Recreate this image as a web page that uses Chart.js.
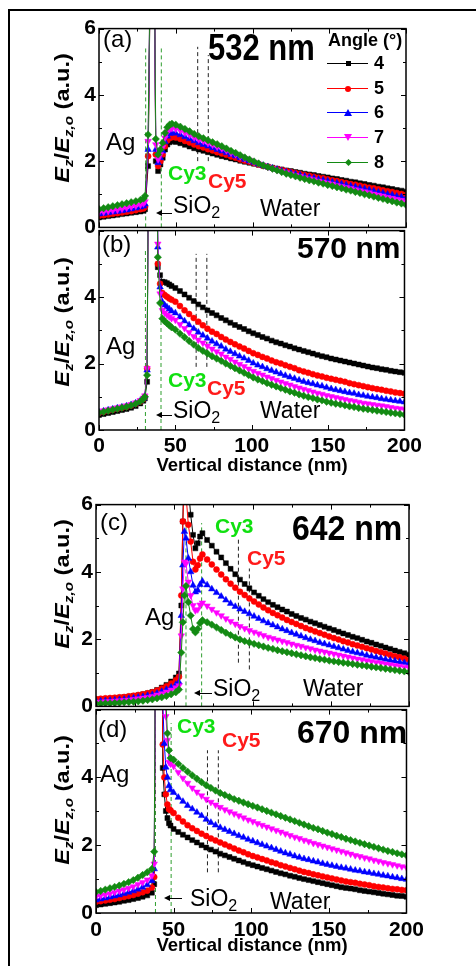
<!DOCTYPE html>
<html>
<head>
<meta charset="utf-8">
<script src="https://cdn.jsdelivr.net/npm/chart.js@4.4.0/dist/chart.umd.min.js"></script>
<style>
  html, body { margin:0; padding:0; background:#fff; }
  body { width:476px; height:966px; position:relative; overflow:hidden; font-family:"Liberation Sans", Arial, sans-serif; color:#000; }
  canvas { position:absolute; }
  .frame { position:absolute; left:8px; top:9px; width:480px; height:970px; border-left:2px solid #000; border-top:2px solid #000; }
  .t { position:absolute; line-height:1; white-space:nowrap; }
  .pl { font-size:24px; }
  .nm { font-weight:bold; transform-origin:left top; }
  .ag { font-size:24px; }
  .cy { font-size:21px; font-weight:bold; }
  .g { color:#10e010; }
  .r { color:#ff1a1a; }
  .sio, .wat { font-size:23px; }
  .sio sub { font-size:70%; vertical-align:-0.3em; line-height:0; }
  .arrow { position:absolute; height:0; border-top:1px solid #000; }
  .arrow:before { content:''; position:absolute; left:-2px; top:-4px; border-right:6px solid #000; border-top:3.5px solid transparent; border-bottom:3.5px solid transparent; }
  .ytitle { position:absolute; font-size:21px; font-weight:bold; white-space:nowrap; line-height:1; transform:translate(-50%,-50%) rotate(-90deg) scaleX(1.12); }
  .ytitle sub { font-size:65%; vertical-align:-0.3em; line-height:0; }
  .xtitle { position:absolute; font-size:18.5px; font-weight:bold; line-height:1; white-space:nowrap; transform:translateX(-50%); }
  .legline { position:absolute; height:0; width:41px; border-top:1px solid; }
  .mk { position:absolute; }
</style>
</head>
<body>
<div class="frame"></div>

<script>
// ---- data ----
const angles = ['4', '5', '6', '7', '8'];
const xTickSteps = [0, 25, 50, 75, 100, 125, 150, 175, 200];
const yTickSteps = [0, 1, 2, 3, 4, 5, 6];

const xWater = [50,53,56,59,62,65,68,71,74,77,80,83,86,89,92,95,98,101,104,107,110,113,116,119,122,125,128,131,134,137,140,143,146,149,152,155,158,161,164,167,170,173,176,179,182,185,188,191,194,197,200];
const xWaterC = [71,74,77,80,83,86,89,92,95,98,101,104,107,110,113,116,119,122,125,128,131,134,137,140,143,146,149,152,155,158,161,164,167,170,173,176,179,182,185,188,191,194,197,200];

// (a) 532 nm
const xA = [0,3,6,9,12,15,18,21,24,27,29,30,32,35,37,38.5,40,41.5,43,44.5,46,47.5, ...xWater];
const blackA = [0.30,0.32,0.34,0.36,0.38,0.40,0.42,0.44,0.46,0.48,0.50,0.55, 1.85,14,2.00,1.70,1.90,2.10,2.35,2.50,2.57,2.60,
  2.58,2.54,2.49,2.44,2.39,2.35,2.31,2.27,2.23,2.19, 2.15,2.12,2.08,2.05,2.01,1.98,1.95,1.92,1.89,1.86, 1.83,1.80,1.77,1.75,1.72,1.70,1.67,1.65,1.62,1.60, 1.58,1.55,1.53,1.51,1.48,1.46,1.43,1.41,1.38,1.36, 1.33,1.31,1.28,1.26,1.23,1.21,1.18,1.16,1.13,1.11, 1.08];
const redA = [0.35,0.37,0.39,0.41,0.43,0.45,0.47,0.49,0.52,0.55,0.57,0.62, 2.15,14,2.20,1.85,2.00,2.20,2.45,2.62,2.70,2.72,
  2.71,2.67,2.61,2.56,2.50,2.45,2.41,2.36,2.32,2.27, 2.23,2.19,2.14,2.10,2.05,2.01,1.98,1.94,1.90,1.86, 1.83,1.79,1.76,1.73,1.70,1.67,1.64,1.61,1.58,1.56, 1.53,1.50,1.48,1.45,1.42,1.40,1.37,1.34,1.31,1.29, 1.26,1.23,1.20,1.18,1.15,1.12,1.09,1.07,1.04,1.01, 0.98];
const blueA = [0.40,0.42,0.44,0.46,0.48,0.50,0.52,0.55,0.58,0.61,0.64,0.70, 2.35,14,2.35,1.95,2.10,2.30,2.58,2.75,2.83,2.86,
  2.84,2.79,2.73,2.67,2.61,2.55,2.50,2.45,2.40,2.35, 2.30,2.25,2.20,2.15,2.10,2.05,2.00,1.96,1.91,1.87, 1.83,1.79,1.75,1.71,1.67,1.64,1.61,1.58,1.54,1.51, 1.49,1.45,1.43,1.40,1.37,1.34,1.31,1.28,1.25,1.22, 1.19,1.16,1.13,1.10,1.06,1.04,1.00,0.98,0.94,0.92, 0.88];
const magentaA = [0.45,0.47,0.49,0.51,0.53,0.56,0.59,0.62,0.65,0.68,0.72,0.78, 2.60,14,2.50,2.05,2.20,2.42,2.70,2.88,2.96,2.99,
  2.97,2.92,2.85,2.79,2.71,2.65,2.60,2.54,2.49,2.43, 2.38,2.32,2.25,2.20,2.14,2.08,2.03,1.97,1.92,1.87, 1.82,1.78,1.73,1.69,1.65,1.61,1.57,1.54,1.50,1.47, 1.44,1.40,1.37,1.34,1.31,1.27,1.24,1.21,1.18,1.14, 1.11,1.08,1.05,1.01,0.98,0.95,0.91,0.88,0.85,0.82, 0.78];
const greenA = [0.55,0.58,0.61,0.64,0.67,0.70,0.73,0.76,0.79,0.83,0.87,0.95, 2.80,14,2.67,2.20,2.35,2.55,2.85,3.02,3.10,3.13,
  3.10,3.04,2.97,2.90,2.82,2.75,2.69,2.63,2.57,2.51, 2.45,2.38,2.31,2.25,2.18,2.11,2.05,1.99,1.93,1.87, 1.82,1.77,1.72,1.67,1.62,1.58,1.54,1.50,1.46,1.42, 1.39,1.35,1.32,1.28,1.25,1.21,1.18,1.14,1.11,1.07, 1.04,1.00,0.97,0.93,0.89,0.86,0.82,0.79,0.75,0.72, 0.68];

// (b) 570 nm
const xB = [0,3,6,9,12,15,18,21,24,27,29,30,31.5,33,37,38.5,40,41.5,43,44.5,46,47.5, ...xWater];
const blackB = [0.45,0.48,0.51,0.54,0.57,0.60,0.63,0.67,0.72,0.80,0.88,0.95, 1.45,14,14,4.90,4.66,4.46,4.45,4.42,4.38,4.33,
  4.27,4.18,4.08,3.98,3.88,3.78,3.69,3.60,3.52,3.45, 3.37,3.30,3.23,3.16,3.10,3.04,2.97,2.91,2.86,2.80, 2.75,2.69,2.64,2.60,2.55,2.51,2.46,2.42,2.38,2.34, 2.30,2.26,2.22,2.19,2.15,2.12,2.09,2.06,2.03,2.00, 1.97,1.94,1.91,1.88,1.86,1.83,1.81,1.78,1.76,1.74, 1.72];
const redB = [0.52,0.55,0.58,0.61,0.64,0.67,0.70,0.74,0.79,0.86,0.93,1.00, 1.85,14,14,5.00,4.40,4.12,4.06,4.01,3.96,3.92,
  3.86,3.73,3.60,3.49,3.37,3.26,3.15,3.05,2.96,2.89, 2.80,2.72,2.65,2.58,2.51,2.45,2.38,2.31,2.26,2.20, 2.15,2.09,2.04,2.00,1.95,1.90,1.86,1.80,1.76,1.72, 1.68,1.64,1.61,1.57,1.54,1.51,1.48,1.45,1.41,1.38, 1.35,1.32,1.29,1.26,1.23,1.21,1.18,1.16,1.13,1.11, 1.09];
const blueB = [0.54,0.57,0.60,0.63,0.66,0.69,0.72,0.76,0.81,0.88,0.95,1.02, 1.80,14,14,5.50,4.30,3.85,3.76,3.70,3.64,3.58,
  3.52,3.40,3.28,3.16,3.05,2.94,2.85,2.76,2.67,2.59, 2.52,2.43,2.36,2.29,2.22,2.16,2.09,2.01,1.95,1.90, 1.84,1.79,1.74,1.69,1.64,1.59,1.55,1.50,1.46,1.42, 1.39,1.35,1.32,1.28,1.24,1.21,1.18,1.15,1.12,1.10, 1.06,1.04,1.01,0.99,0.97,0.94,0.92,0.90,0.88,0.86, 0.84];
const magentaB = [0.55,0.58,0.61,0.64,0.67,0.70,0.73,0.77,0.82,0.89,0.96,1.03, 1.85,14,14,5.60,4.10,3.60,3.52,3.46,3.41,3.36,
  3.31,3.18,3.06,2.94,2.82,2.71,2.62,2.53,2.44,2.36, 2.29,2.20,2.13,2.05,1.98,1.91,1.84,1.77,1.71,1.66, 1.60,1.55,1.50,1.45,1.40,1.36,1.31,1.27,1.23,1.19, 1.15,1.11,1.08,1.04,1.01,0.98,0.95,0.92,0.89,0.87, 0.84,0.81,0.79,0.77,0.75,0.73,0.71,0.68,0.66,0.64, 0.62];
const greenB = [0.52,0.55,0.58,0.61,0.64,0.67,0.70,0.74,0.79,0.86,0.93,1.00, 1.65,14,14,5.20,3.82,3.35,3.27,3.21,3.15,3.09,
  3.02,2.90,2.79,2.68,2.57,2.47,2.38,2.30,2.22,2.15, 2.08,2.00,1.93,1.86,1.79,1.72,1.65,1.58,1.52,1.47, 1.41,1.36,1.31,1.26,1.21,1.16,1.12,1.07,1.03,0.99, 0.96,0.92,0.89,0.85,0.82,0.79,0.77,0.74,0.71,0.69, 0.66,0.64,0.62,0.60,0.58,0.56,0.54,0.52,0.50,0.48, 0.46];

// (c) 642 nm
const xC = [0,3,6,9,12,15,18,21,24,27,30,33,36,39,42,45,48,51, 53,54.5,55.5,56.5,57.5,59,60.5,62,63.5,65,66.5,68, ...xWaterC];
const blackC = [0.20,0.21,0.22,0.23,0.24,0.26,0.27,0.29,0.31,0.33,0.36,0.39,0.43,0.49,0.56,0.64,0.74,0.86, 0.98,3.00,5.50,8.00,7.50,6.50,5.70,5.10,4.70,4.85,5.05,5.15,
  4.95,4.78,4.60,4.43,4.26,4.09,3.93,3.77,3.64,3.51, 3.39,3.29,3.19,3.10,3.02,2.95,2.88,2.82,2.75,2.69, 2.63,2.58,2.52,2.47,2.42,2.37,2.32,2.27,2.22,2.17, 2.12,2.07,2.03,1.98,1.93,1.89,1.84,1.80,1.75,1.71, 1.66,1.62,1.58,1.54];
const redC = [0.22,0.23,0.24,0.25,0.26,0.27,0.28,0.30,0.32,0.34,0.36,0.39,0.42,0.47,0.53,0.60,0.68,0.78, 0.88,3.30,5.50,6.80,6.30,5.40,4.90,4.30,4.07,4.20,4.40,4.52,
  4.37,4.22,4.07,3.92,3.78,3.65,3.53,3.41,3.31,3.21, 3.12,3.03,2.94,2.86,2.78,2.71,2.64,2.57,2.51,2.45, 2.39,2.33,2.28,2.23,2.18,2.13,2.08,2.03,1.99,1.94, 1.90,1.85,1.81,1.77,1.73,1.69,1.65,1.61,1.57,1.53, 1.49,1.46,1.42,1.38];
const blueC = [0.15,0.16,0.17,0.18,0.19,0.20,0.21,0.23,0.25,0.27,0.29,0.32,0.35,0.39,0.44,0.50,0.57,0.65, 0.72,2.70,4.20,5.20,5.00,4.40,4.00,3.60,3.40,3.45,3.62,3.72,
  3.61,3.49,3.38,3.27,3.16,3.06,2.97,2.89,2.82,2.75, 2.68,2.61,2.54,2.48,2.42,2.36,2.30,2.25,2.19,2.14, 2.09,2.04,1.99,1.95,1.90,1.86,1.82,1.78,1.74,1.70, 1.66,1.62,1.59,1.56,1.52,1.49,1.46,1.43,1.40,1.37, 1.35,1.32,1.30,1.27];
const magentaC = [0.12,0.13,0.14,0.15,0.16,0.17,0.18,0.19,0.21,0.23,0.25,0.27,0.30,0.34,0.38,0.43,0.49,0.56, 0.62,2.10,3.50,4.30,4.25,3.70,3.30,3.00,2.85,2.88,3.02,3.08,
  2.99,2.89,2.79,2.70,2.61,2.53,2.45,2.38,2.32,2.26, 2.21,2.16,2.11,2.06,2.02,1.98,1.94,1.90,1.86,1.82, 1.79,1.75,1.72,1.68,1.65,1.62,1.59,1.56,1.53,1.50, 1.47,1.44,1.41,1.39,1.36,1.34,1.31,1.29,1.26,1.24, 1.22,1.20,1.17,1.15];
const greenC = [0.08,0.08,0.09,0.09,0.10,0.11,0.12,0.13,0.14,0.15,0.17,0.19,0.21,0.24,0.27,0.31,0.36,0.42, 0.50,1.60,2.50,3.30,3.58,3.10,2.70,2.30,2.20,2.30,2.48,2.56,
  2.50,2.43,2.35,2.27,2.19,2.12,2.05,1.99,1.94,1.90, 1.86,1.82,1.78,1.74,1.71,1.67,1.64,1.61,1.58,1.55, 1.52,1.49,1.46,1.44,1.41,1.39,1.36,1.34,1.32,1.30, 1.28,1.26,1.24,1.22,1.20,1.18,1.16,1.14,1.12,1.10, 1.08,1.06,1.04,1.02];

// (d) 670 nm
const xD = [0,3,6,9,12,15,18,21,24,27,30,33,36, 37.5,39,42,43,44,45,46,47,48, ...xWater];
const blackD = [0.23,0.25,0.27,0.29,0.31,0.33,0.36,0.38,0.41,0.44,0.48,0.52,0.60, 0.85,14,14,4.28,3.50,3.01,2.80,2.65,2.58,
  2.48,2.39,2.31,2.23,2.15,2.08,2.00,1.93,1.87,1.81, 1.75,1.70,1.65,1.60,1.55,1.50,1.45,1.41,1.37,1.33, 1.29,1.25,1.21,1.17,1.14,1.10,1.07,1.03,1.00,0.97, 0.94,0.91,0.88,0.85,0.82,0.79,0.76,0.74,0.72,0.70, 0.67,0.65,0.63,0.61,0.59,0.57,0.55,0.53,0.51,0.50, 0.48];
const redD = [0.33,0.35,0.37,0.39,0.41,0.44,0.47,0.50,0.53,0.57,0.61,0.66,0.75, 1.06,14,14,4.97,4.00,3.50,3.20,3.06,3.03,
  2.95,2.81,2.70,2.59,2.50,2.42,2.34,2.27,2.20,2.14, 2.08,2.02,1.96,1.90,1.84,1.79,1.73,1.68,1.64,1.59, 1.55,1.50,1.46,1.41,1.37,1.33,1.29,1.25,1.21,1.18, 1.14,1.11,1.08,1.05,1.02,0.99,0.96,0.93,0.91,0.89, 0.86,0.84,0.82,0.79,0.77,0.75,0.73,0.71,0.70,0.68, 0.67];
const blueD = [0.38,0.41,0.44,0.47,0.50,0.53,0.57,0.61,0.65,0.70,0.76,0.83,0.95, 1.30,14,14,6.20,5.00,4.30,4.00,3.75,3.63,
  3.55,3.41,3.29,3.17,3.07,2.97,2.87,2.76,2.67,2.59, 2.52,2.46,2.40,2.34,2.28,2.23,2.17,2.12,2.07,2.02, 1.97,1.92,1.87,1.82,1.77,1.73,1.68,1.64,1.60,1.57, 1.53,1.50,1.46,1.43,1.40,1.37,1.34,1.32,1.29,1.26, 1.24,1.21,1.19,1.16,1.14,1.11,1.09,1.06,1.04,1.01, 0.99];
const magentaD = [0.48,0.51,0.54,0.57,0.61,0.65,0.69,0.73,0.78,0.84,0.90,0.98,1.10, 1.45,14,14,9.00,7.00,5.80,5.10,4.45,4.40,
  4.33,4.15,3.98,3.83,3.69,3.57,3.46,3.36,3.27,3.19, 3.12,3.05,2.99,2.93,2.87,2.81,2.75,2.70,2.64,2.59, 2.54,2.49,2.44,2.39,2.34,2.29,2.24,2.20,2.15,2.11, 2.06,2.02,1.98,1.94,1.90,1.86,1.82,1.78,1.74,1.70, 1.67,1.63,1.60,1.56,1.53,1.49,1.46,1.43,1.40,1.37, 1.34];
const greenD = [0.62,0.65,0.69,0.73,0.77,0.81,0.86,0.91,0.97,1.04,1.12,1.20,1.30, 1.81,14,14,10.0,8.00,6.30,5.30,4.80,4.57,
  4.52,4.40,4.28,4.17,4.06,3.96,3.86,3.77,3.69,3.61, 3.54,3.48,3.42,3.36,3.31,3.26,3.21,3.16,3.11,3.06, 3.01,2.96,2.91,2.86,2.81,2.76,2.71,2.66,2.61,2.56, 2.51,2.47,2.42,2.37,2.33,2.28,2.24,2.19,2.15,2.11, 2.07,2.03,1.99,1.95,1.91,1.87,1.83,1.80,1.76,1.73, 1.70];

// dashed marker lines (x in nm, from/to in a.u.)
const greenDashA = [{x:30.4, from:0, to:5.4}, {x:40.6, from:0, to:5.4}];
const blackDashA = [{x:64.3, from:2.0, to:5.45}, {x:71.2, from:2.0, to:5.2}];
const greenDashB = [{x:30.4, from:0, to:5.45}, {x:40.6, from:0, to:4.6}];
const blackDashB = [{x:63.6, from:1.9, to:5.3}, {x:70.6, from:1.9, to:5.3}];
const greenDashC = [{x:57.5, from:0, to:5.5}, {x:67.5, from:0, to:5.45}];
const blackDashC = [{x:91, from:1.3, to:5.0}, {x:98, from:1.1, to:4.1}];
const greenDashD = [{x:38.3, from:0, to:6}, {x:48.4, from:0, to:5.6}];
const blackDashD = [{x:71.8, from:1.2, to:4.8}, {x:78.8, from:1.2, to:4.8}];

// ---- look ----
const COLORS = ['#000000', '#ff0000', '#0000ff', '#ff00ff', '#138a13'];
const STYLES = ['rect', 'circle', 'triangle', 'triangle', 'rectRot'];
const ROT = [0, 0, 0, 180, 0];
const RAD = [3.5, 3.0, 3.8, 3.8, 3.7];
const FONT = 'Liberation Sans, Arial, sans-serif';

const framePlugin = {
  id: 'frame',
  afterDraw(chart) {
    const {ctx, chartArea: a, scales: {x, y}} = chart;
    ctx.save();
    ctx.strokeStyle = '#000';
    ctx.lineWidth = 1.5;
    ctx.strokeRect(a.left, a.top, a.right - a.left, a.bottom - a.top);
    ctx.lineWidth = 1;
    ctx.beginPath();
    xTickSteps.forEach(t => {
      const px = Math.round(x.getPixelForValue(t)) + 0.5;
      const len = t % 50 === 0 ? 5 : 3;
      ctx.moveTo(px, a.bottom); ctx.lineTo(px, a.bottom - len);
      ctx.moveTo(px, a.top); ctx.lineTo(px, a.top + len);
    });
    yTickSteps.forEach(t => {
      const py = Math.round(y.getPixelForValue(t)) + 0.5;
      const len = t % 2 === 0 ? 5 : 3;
      ctx.moveTo(a.left, py); ctx.lineTo(a.left + len, py);
      ctx.moveTo(a.right, py); ctx.lineTo(a.right - len, py);
    });
    ctx.stroke();
    ctx.restore();
  }
};

function makePanel(p, xs, series, greenDash, blackDash) {
  const cv = document.createElement('canvas');
  const w = p.R - p.L + 90;
  const h = p.B - p.T + 14 + (p.showX ? 30 : 14);
  cv.width = w; cv.height = h;
  cv.style.left = (p.L - 70) + 'px';
  cv.style.top = (p.T - 14) + 'px';
  document.body.appendChild(cv);

  const datasets = series.map((ys, i) => ({
    label: angles[i],
    data: ys.map((v, k) => ({x: xs[k], y: v})),
    showLine: true,
    borderColor: COLORS[i],
    backgroundColor: COLORS[i],
    borderWidth: 1,
    pointStyle: STYLES[i],
    pointRotation: ROT[i],
    pointRadius: RAD[i],
    pointBorderWidth: 0.5,
    order: 10 - i
  }));
  const dash = (list, color) => list.forEach(d => datasets.push({
    data: [{x: d.x, y: d.from}, {x: d.x, y: d.to}],
    showLine: true, borderColor: color, borderWidth: 1, borderDash: [4, 3],
    pointRadius: 0, order: 20
  }));
  dash(greenDash, '#2f9e2f');
  dash(blackDash, '#222222');

  new Chart(cv, {
    type: 'scatter',
    data: {datasets},
    options: {
      responsive: false,
      animation: false,
      devicePixelRatio: 1,
      events: [],
      layout: {padding: {left: 0, right: 20, top: 14, bottom: 0}},
      plugins: {legend: {display: false}, tooltip: {enabled: false}},
      scales: {
        x: {
          type: 'linear', min: 0, max: 200,
          grid: {display: false, drawTicks: false},
          border: {display: false},
          ticks: {display: p.showX, stepSize: 50, autoSkip: false, maxRotation: 0, padding: p.xPad,
                  color: '#000', font: {family: FONT, size: 21, weight: 'bold'}},
          afterFit(s) { s.height = p.showX ? 30 : 14; }
        },
        y: {
          min: 0, max: 6,
          grid: {display: false, drawTicks: false},
          border: {display: false},
          ticks: {stepSize: 2, padding: 3, color: '#000', font: {family: FONT, size: 21, weight: 'bold'},
                  callback: v => (p.hideTop && v === 6) ? '' : v},
          afterFit(s) { s.width = 70; }
        }
      }
    },
    plugins: [framePlugin]
  });
}

makePanel({L: 99, T: 27, R: 406, B: 229, showX: false, hideTop: false, xPad: 4}, xA,
  [blackA, redA, blueA, magentaA, greenA], greenDashA, blackDashA);
makePanel({L: 99, T: 229, R: 406, B: 430, showX: true, hideTop: true, xPad: 4}, xB,
  [blackB, redB, blueB, magentaB, greenB], greenDashB, blackDashB);
makePanel({L: 96, T: 503, R: 409, B: 708, showX: false, hideTop: false, xPad: 4}, xC,
  [blackC, redC, blueC, magentaC, greenC], greenDashC, blackDashC);
makePanel({L: 96, T: 708, R: 409, B: 913, showX: true, hideTop: true, xPad: 5}, xD,
  [blackD, redD, blueD, magentaD, greenD], greenDashD, blackDashD);

// legend of panel (a)
const legendRowsY = [63, 88, 112, 137, 162];
const markerCss = [
  'width:5px;height:5px;background:#000;',
  'width:6px;height:6px;border-radius:50%;background:#ff0000;',
  'width:0;height:0;border-left:4px solid transparent;border-right:4px solid transparent;border-bottom:7px solid #0000ff;',
  'width:0;height:0;border-left:4px solid transparent;border-right:4px solid transparent;border-top:7px solid #ff00ff;',
  'width:5px;height:5px;background:#138a13;transform:rotate(45deg);'
];
const markerSize = [[5, 5], [6, 6], [8, 7], [8, 7], [5, 5]];
angles.forEach((a, i) => {
  const y = legendRowsY[i];
  const ln = document.createElement('div');
  ln.className = 'legline';
  ln.style.cssText = `left:327px;top:${y}px;border-top-color:${COLORS[i]};`;
  document.body.appendChild(ln);
  const mk = document.createElement('div');
  mk.className = 'mk';
  mk.style.cssText = markerCss[i] + `left:${348 - markerSize[i][0] / 2}px;top:${y + 0.5 - markerSize[i][1] / 2}px;`;
  document.body.appendChild(mk);
  const tx = document.createElement('div');
  tx.className = 't';
  tx.style.cssText = `left:374px;top:${y - 9}px;font-size:18px;font-weight:bold;`;
  tx.textContent = a;
  document.body.appendChild(tx);
});
</script>

<!-- axis titles -->
<div class="ytitle" style="left:61px;top:118px"><i>E</i><sub><i>z</i></sub>/<i>E</i><sub><i>z,o</i></sub> (a.u.)</div>
<div class="ytitle" style="left:61px;top:322px"><i>E</i><sub><i>z</i></sub>/<i>E</i><sub><i>z,o</i></sub> (a.u.)</div>
<div class="ytitle" style="left:61px;top:584px"><i>E</i><sub><i>z</i></sub>/<i>E</i><sub><i>z,o</i></sub> (a.u.)</div>
<div class="ytitle" style="left:61px;top:800px"><i>E</i><sub><i>z</i></sub>/<i>E</i><sub><i>z,o</i></sub> (a.u.)</div>
<div class="xtitle" style="left:252px;top:456px">Vertical distance (nm)</div>
<div class="xtitle" style="left:252px;top:936px">Vertical distance (nm)</div>

<div class="t" style="left:328px;top:31px;font-size:18px;font-weight:bold">Angle (°)</div>

<!-- (a) -->
<div class="t pl" style="left:103px;top:27px">(a)</div>
<div class="t nm" style="left:208px;top:28px;font-size:31px;transform:scaleY(1.22)">532 nm</div>
<div class="t ag" style="left:106px;top:130px">Ag</div>
<div class="t cy g" style="left:168px;top:162px">Cy3</div>
<div class="t cy r" style="left:208px;top:170px">Cy5</div>
<div class="arrow" style="left:158px;top:213px;width:14px"></div>
<div class="t sio" style="left:173px;top:194px">SiO<sub>2</sub></div>
<div class="t wat" style="left:260px;top:197px">Water</div>

<!-- (b) -->
<div class="t pl" style="left:102px;top:232px">(b)</div>
<div class="t nm" style="left:297px;top:233px;font-size:30px">570 nm</div>
<div class="t ag" style="left:106px;top:334px">Ag</div>
<div class="t cy g" style="left:168px;top:369px">Cy3</div>
<div class="t cy r" style="left:207px;top:377px">Cy5</div>
<div class="arrow" style="left:158px;top:415px;width:14px"></div>
<div class="t sio" style="left:173px;top:399px">SiO<sub>2</sub></div>
<div class="t wat" style="left:260px;top:399px">Water</div>

<!-- (c) -->
<div class="t pl" style="left:100px;top:510px">(c)</div>
<div class="t nm" style="left:292px;top:510px;font-size:32px;transform:scaleY(1.1)">642 nm</div>
<div class="t ag" style="left:145px;top:605px">Ag</div>
<div class="t cy g" style="left:215px;top:515px">Cy3</div>
<div class="t cy r" style="left:247px;top:547px">Cy5</div>
<div class="arrow" style="left:196px;top:693px;width:16px"></div>
<div class="t sio" style="left:213px;top:677px">SiO<sub>2</sub></div>
<div class="t wat" style="left:303px;top:677px">Water</div>

<!-- (d) -->
<div class="t pl" style="left:98px;top:717px">(d)</div>
<div class="t nm" style="left:297px;top:716px;font-size:32px">670 nm</div>
<div class="t ag" style="left:100px;top:762px">Ag</div>
<div class="t cy g" style="left:177px;top:715px">Cy3</div>
<div class="t cy r" style="left:222px;top:729px">Cy5</div>
<div class="arrow" style="left:166px;top:898px;width:16px"></div>
<div class="t sio" style="left:190px;top:887px">SiO<sub>2</sub></div>
<div class="t wat" style="left:270px;top:890px">Water</div>
</body>
</html>
